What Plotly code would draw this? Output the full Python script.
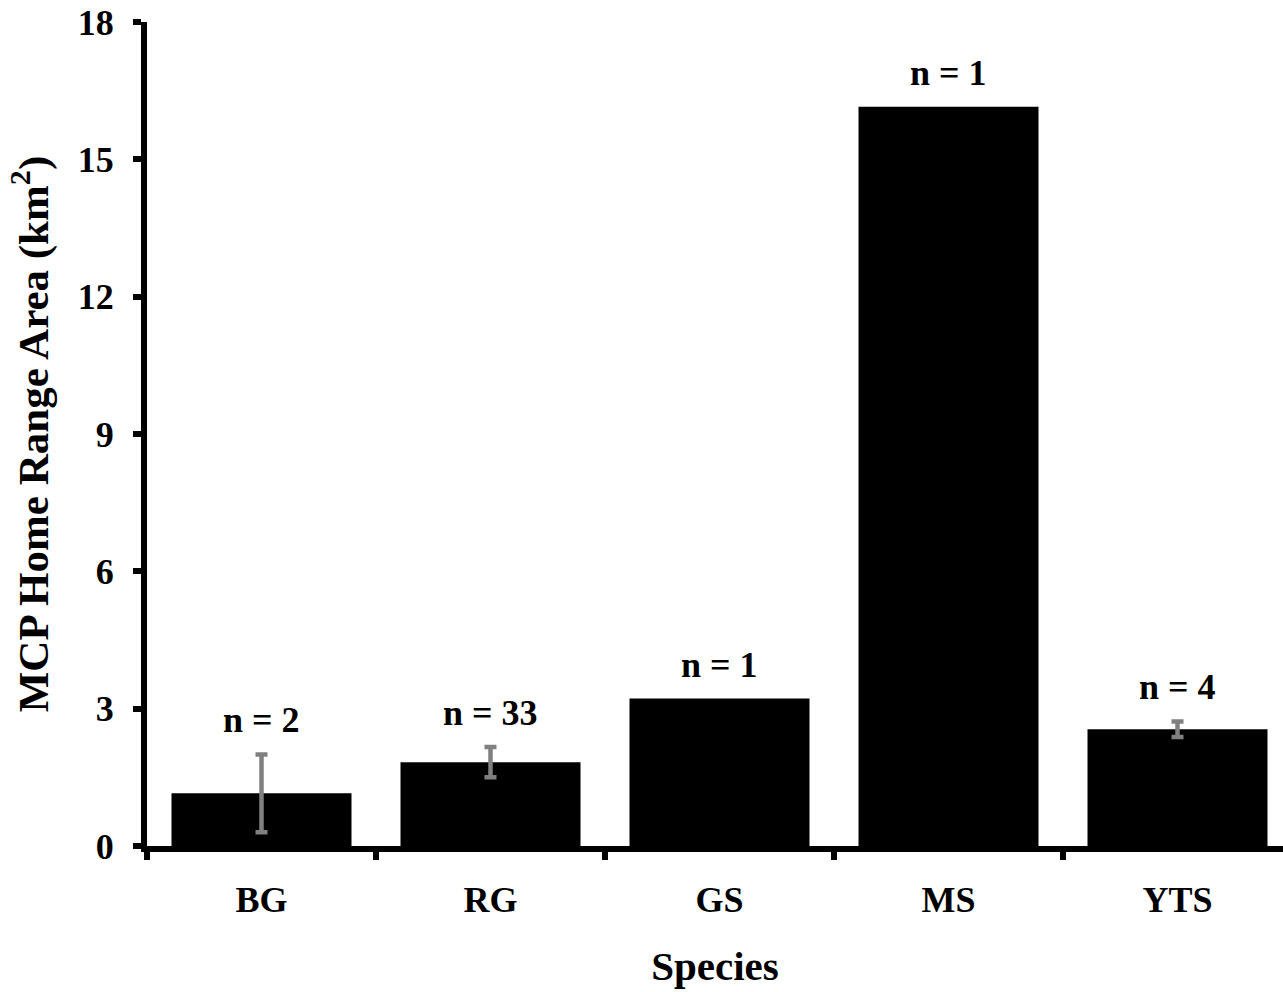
import plotly.graph_objects as go

# Mean MCP home range per species, with standard error and sample size
species = ["BG", "RG", "GS", "MS", "YTS"]
home_range_km2 = [1.15, 1.83, 3.22, 16.15, 2.55]
std_error = [0.85, 0.33, None, None, 0.17]
sample_size = [2, 33, 1, 1, 4]
y_ticks = [0, 3, 6, 9, 12, 15, 18]

FONT = "Liberation Serif, Times New Roman, serif"

fig = go.Figure()
fig.add_trace(go.Bar(
    x=species,
    y=home_range_km2,
    marker=dict(color="#000000", line=dict(width=0)),
    showlegend=False,
    hoverinfo="x+y",
))

# Error bars only for species with more than one animal
err_idx = [i for i, e in enumerate(std_error) if e is not None]
fig.add_trace(go.Scatter(
    x=[species[i] for i in err_idx],
    y=[home_range_km2[i] for i in err_idx],
    mode="markers",
    marker=dict(size=0, opacity=0),
    error_y=dict(
        type="data",
        array=[std_error[i] for i in err_idx],
        visible=True,
        color="#808080",
        thickness=4.5,
        width=6,
    ),
    showlegend=False,
    hoverinfo="skip",
))

for sp, val, err, n in zip(species, home_range_km2, std_error, sample_size):
    fig.add_annotation(
        x=sp, y=val + (err or 0), text=f"<b>n = {n}</b>",
        showarrow=False, yanchor="middle", yshift=34,
        font=dict(family=FONT, size=36, color="#000000"),
    )

plot_left = 147
cat_px = 229
plot_w = 1283 - plot_left

fig.update_layout(
    width=1283, height=992,
    margin=dict(l=plot_left, r=0, t=22, b=146, pad=0),
    paper_bgcolor="white", plot_bgcolor="white",
    bargap=0.214,
    font=dict(family=FONT, size=36, color="#000000"),
    xaxis=dict(
        type="category",
        range=[-0.5, -0.5 + plot_w / cat_px],
        showline=True, linecolor="#000000", linewidth=6,
        ticks="outside", tickson="boundaries", ticklen=8, tickwidth=6, tickcolor="#000000",
        tickfont=dict(family=FONT, size=36, color="#000000"),
        tickprefix="<b>", ticksuffix="</b>",
        ticklabelstandoff=17,
        title=dict(text="<b>Species</b>", font=dict(family=FONT, size=41), standoff=34),
        showgrid=False, zeroline=False,
    ),
    yaxis=dict(
        range=[0, 18],
        tickvals=y_ticks,
        ticktext=[f"<b>{t}</b>" for t in y_ticks],
        showline=True, linecolor="#000000", linewidth=6,
        ticks="outside", ticklen=8, tickwidth=6, tickcolor="#000000",
        tickfont=dict(family=FONT, size=36, color="#000000"),
        ticklabelstandoff=12,
        title=dict(text="<b>MCP Home Range Area (km<sup>2</sup>)</b>",
                   font=dict(family=FONT, size=43), standoff=18),
        showgrid=False, zeroline=False,
    ),
)

fig.write_html("out.html")
